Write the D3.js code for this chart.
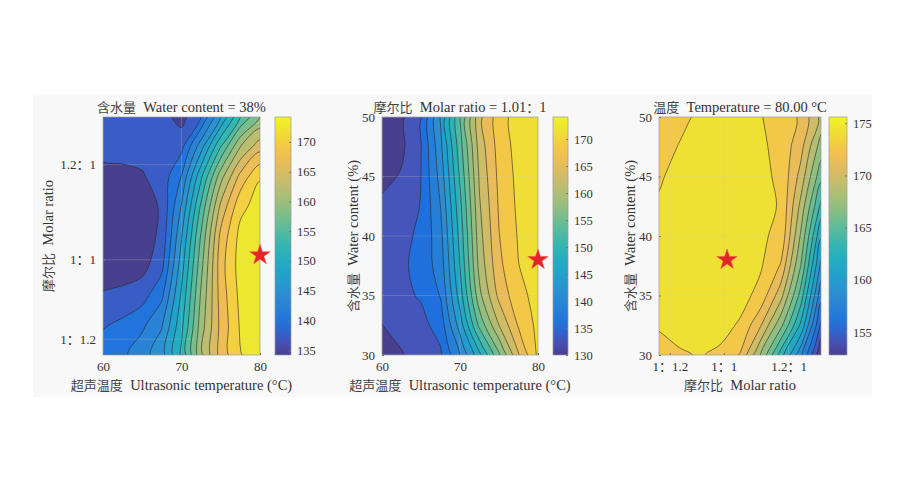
<!DOCTYPE html>
<html lang="en">
<head>
<meta charset="UTF-8">
<title>Contour panels</title>
<script src="https://d3js.org/d3.v7.min.js"></script>
<style>
    body { margin: 0; background: #fff; }
    text {
        font-family: "Liberation Serif", "Noto Sans CJK SC", serif;
        fill: #333;
        white-space: pre;
    }
</style>
</head>
<body>
<script>
    const width = 909;
    const height = 501;

    // grid axes (rows listed top to bottom)
    const tempCols = [60, 62.5, 65, 67.5, 70, 72.5, 75, 77.5, 80];
    const ratioCols = [0.8, 0.8625, 0.925, 0.9875, 1.05, 1.1125, 1.175, 1.2375, 1.3];
    const ratioRows = [1.3, 1.2375, 1.175, 1.1125, 1.05, 0.9875, 0.925, 0.8625, 0.8];
    const waterRows = [50, 47.5, 45, 42.5, 40, 37.5, 35, 32.5, 30];

    // panel 1: water content = 38%, temperature x molar ratio
    const yield1 = [
        [139.0, 139.0, 138.8, 138.4, 136.5, 140.0, 147.5, 155.0, 160.0],
        [138.2, 138.2, 138.3, 138.3, 139.3, 146.5, 155.0, 162.5, 166.5],
        [136.8, 137.0, 137.3, 138.5, 142.6, 152.0, 161.5, 168.3, 172.3],
        [135.5, 135.5, 136.0, 137.9, 145.2, 155.5, 165.6, 171.8, 173.6],
        [135.0, 135.0, 135.9, 138.2, 147.3, 157.8, 168.2, 173.3, 174.2],
        [135.8, 135.5, 136.6, 139.3, 148.9, 159.2, 169.0, 173.6, 174.2],
        [137.8, 138.5, 139.0, 142.0, 150.4, 160.4, 168.6, 173.2, 174.0],
        [139.8, 140.5, 142.0, 144.8, 151.8, 161.3, 168.2, 172.8, 173.8],
        [141.0, 142.0, 144.0, 146.5, 153.0, 162.0, 168.5, 172.4, 173.5]
    ];
    // panel 2: molar ratio = 1.01:1, temperature x water content
    const yield2 = [
        [131.0, 132.3, 135.2, 144.0, 154.8, 165.0, 170.0, 172.5, 174.0],
        [131.5, 132.2, 135.4, 143.0, 153.6, 164.2, 169.6, 172.3, 173.7],
        [132.0, 133.0, 135.5, 142.0, 152.4, 163.4, 169.2, 172.0, 173.4],
        [133.3, 134.3, 135.6, 141.0, 151.2, 162.7, 168.8, 171.8, 173.1],
        [133.8, 134.8, 136.0, 140.1, 150.2, 162.0, 168.4, 171.5, 172.8],
        [133.9, 134.9, 136.6, 139.4, 149.3, 161.2, 167.8, 171.2, 172.5],
        [133.5, 134.8, 135.8, 138.4, 147.8, 159.5, 166.5, 170.4, 172.2],
        [132.7, 133.8, 134.6, 136.7, 145.0, 155.5, 163.0, 168.8, 172.0],
        [130.5, 132.5, 134.0, 135.0, 141.0, 148.5, 157.0, 165.5, 171.8]
    ];
    // panel 3: temperature = 80 C, molar ratio x water content
    const yield3 = [
        [172.8, 173.6, 174.6, 174.8, 174.7, 174.3, 173.5, 172.5, 169.5],
        [173.3, 174.3, 175.1, 175.2, 175.0, 174.5, 173.7, 171.8, 167.8],
        [173.9, 175.0, 175.4, 175.5, 175.2, 174.6, 173.9, 170.8, 166.0],
        [174.5, 175.3, 175.6, 175.6, 175.2, 174.6, 174.1, 169.5, 163.8],
        [174.7, 175.4, 175.6, 175.6, 175.1, 174.4, 173.9, 168.3, 161.5],
        [174.7, 175.4, 175.6, 175.5, 175.0, 174.4, 172.6, 167.0, 159.5],
        [174.5, 175.2, 175.4, 175.2, 174.8, 173.7, 170.5, 165.0, 157.5],
        [174.3, 174.8, 175.0, 174.8, 174.0, 171.5, 167.5, 162.5, 155.3],
        [173.8, 174.0, 174.3, 173.9, 172.6, 168.5, 163.5, 158.8, 152.8]
    ];

    const levels1 = [137.5, 140, 142.5, 145, 147.5, 150, 152.5, 155, 157.5, 160, 162.5, 165, 167.5, 170, 172.5];
    const levels2 = [132.75, 135.5, 138.25, 141, 143.75, 146.5, 149.25, 152, 154.75, 157.5, 160.25, 163, 165.75, 168.5, 171.25];
    const levels3 = [154.2, 155.6, 157.0, 158.5, 159.9, 161.3, 162.8, 164.2, 165.6, 167.0, 168.5, 169.9, 171.3, 172.7, 174.2];

    const range1 = [134.2, 174.2];
    const range2 = [130, 174.1];
    const range3 = [152.8, 175.6];

    const cbTicks1 = [135, 140, 145, 150, 155, 160, 165, 170];
    const cbTicks2 = [130, 135, 140, 145, 150, 155, 160, 165, 170];
    const cbTicks3 = [155, 160, 165, 170, 175];

    const tempTicks = [60, 70, 80];
    const waterTicks = [30, 35, 40, 45, 50];
    const ratioTicks = [1 / 1.2, 1, 1.2];
    const ratioTickLabels = ["1：1.2", "1：1", "1.2：1"];

    const titles = ["含水量  Water content = 38%", "摩尔比  Molar ratio = 1.01：1", "温度  Temperature = 80.00 °C"];
    const xLabels = ["超声温度  Ultrasonic temperature (°C)", "超声温度  Ultrasonic temperature (°C)", "摩尔比  Molar ratio"];
    const yLabels = ["摩尔比  Molar ratio", "含水量  Water content (%)", "含水量  Water content (%)"];

    // optimum point in each panel
    const optimum = [[80, 1.01], [80, 38], [1.01, 38]];

    // parula colour map stops
    const parulaRows = [0, 4, 8, 12, 16, 20, 24, 28, 32, 36, 40, 44, 48, 52, 56, 60, 63];
    const parulaRgb = [
        [0.2081, 0.1663, 0.5292], [0.1959, 0.2645, 0.7279], [0.0117, 0.3875, 0.8820],
        [0.0498, 0.4586, 0.8641], [0.0793, 0.5200, 0.8312], [0.0343, 0.5966, 0.8199],
        [0.0228, 0.6535, 0.7768], [0.0843, 0.6928, 0.7062], [0.2178, 0.7250, 0.6193],
        [0.3953, 0.7459, 0.5244], [0.5709, 0.7485, 0.4494], [0.7184, 0.7411, 0.3905],
        [0.8507, 0.7299, 0.3360], [0.9739, 0.7314, 0.2666], [0.9880, 0.8066, 0.1794],
        [0.9598, 0.9218, 0.0948], [0.9763, 0.9831, 0.0538]
    ];
    const parulaBase = d3.scaleLinear()
            .domain(parulaRows.map(r => r / 63))
            .range(parulaRgb.map(c => d3.rgb(c[0] * 255, c[1] * 255, c[2] * 255).toString()))
            .interpolate(d3.interpolateRgb)
            .clamp(true);
    const parula = t => d3.interpolateRgb(parulaBase(t), "#c0c0c0")(0.14);

    const panels = [
        {grid: yield1, xs: tempCols, ys: ratioRows, levels: levels1, range: range1, cbTicks: cbTicks1,
            box: [103, 260, 117, 355], cb: [275, 291], xDomain: [60, 80], yDomain: [0.8, 1.3],
            xTicks: tempTicks, xTickLabels: tempTicks.map(String),
            yTicks: ratioTicks, yTickLabels: ratioTickLabels, yLabelX: 53},
        {grid: yield2, xs: tempCols, ys: waterRows, levels: levels2, range: range2, cbTicks: cbTicks2,
            box: [382, 538, 117, 355], cb: [553, 568], xDomain: [60, 80], yDomain: [30, 50],
            xTicks: tempTicks, xTickLabels: tempTicks.map(String),
            yTicks: waterTicks, yTickLabels: waterTicks.map(String), yLabelX: 358},
        {grid: yield3, xs: ratioCols, ys: waterRows, levels: levels3, range: range3, cbTicks: cbTicks3,
            box: [659, 821, 117, 355], cb: [829, 847], xDomain: [0.8, 1.3], yDomain: [30, 50],
            xTicks: ratioTicks, xTickLabels: ratioTickLabels,
            yTicks: waterTicks, yTickLabels: waterTicks.map(String), yLabelX: 635}
    ];

    const svg = d3.select("body").append("svg")
            .attr("width", width).attr("height", height);

    svg.append("rect")
            .attr("x", 33).attr("y", 95)
            .attr("width", 839).attr("height", 302)
            .attr("fill", "#f8f8f8");

    const defs = svg.append("defs");

    panels.forEach((p, pi) => drawPanel(p, pi));

    // split a label into CJK and Latin runs so each gets its own font
    function mixedText(sel, str, latinSize, cjkSize) {
        const runs = str.match(/[\u3000-\u9fff\uff00-\uffef]+|[^\u3000-\u9fff\uff00-\uffef]+/g);
        runs.forEach(r => {
            const cjk = /[\u3000-\u9fff\uff00-\uffef]/.test(r);
            sel.append("tspan")
                    .style("font-family", cjk ? '"Noto Sans CJK SC", sans-serif' : '"Liberation Serif", serif')
                    .attr("font-size", cjk ? cjkSize : latinSize)
                    .attr("fill", cjk ? "#444" : "#333")
                    .text(r);
        });
    }

    function drawPanel(p, pi) {
        const [x0, x1, y0, y1] = p.box;
        const x = d3.scaleLinear().domain(p.xDomain).range([x0, x1]);
        const y = d3.scaleLinear().domain(p.yDomain).range([y1, y0]);
        const n = p.xs.length, m = p.ys.length;

        // grid coordinates from d3.contours put sample i at i + 0.5
        const gx = d3.scaleLinear().domain([0.5, n - 0.5]).range([x(p.xs[0]), x(p.xs[n - 1])]);
        const gy = d3.scaleLinear().domain([0.5, m - 0.5]).range([y(p.ys[0]), y(p.ys[m - 1])]);

        const thresholds = [p.range[0] - 1].concat(p.levels);
        const bandLow = [p.range[0]].concat(p.levels);
        const color = v => parula((v - p.range[0]) / (p.range[1] - p.range[0]));

        const contours = d3.contours()
                .size([n, m])
                .thresholds(thresholds)(p.grid.flat());

        const ring = d3.line().curve(d3.curveCatmullRomClosed.alpha(0.5));
        const pathOf = c => c.coordinates.map(poly => poly.map(r =>
                ring(r.slice(0, -1).map(pt => [gx(pt[0]), gy(pt[1])]))).join("")).join("");

        defs.append("clipPath").attr("id", "clip" + pi)
                .append("rect")
                .attr("x", x0).attr("y", y0)
                .attr("width", x1 - x0).attr("height", y1 - y0);

        const g = svg.append("g").attr("clip-path", `url(#clip${pi})`);

        g.selectAll("path.band")
                .data(contours)
                .enter()
                .append("path")
                .attr("class", "band")
                .attr("d", pathOf)
                .attr("fill", (d, i) => color(bandLow[i]))
                .attr("fill-rule", "evenodd")
                .attr("stroke", "none");

        // grid lines
        g.selectAll("line.gx")
                .data(p.xTicks)
                .enter()
                .append("line")
                .attr("x1", d => x(d)).attr("x2", d => x(d))
                .attr("y1", y0).attr("y2", y1)
                .attr("stroke", "#c8c8c8").attr("stroke-opacity", 0.35).attr("stroke-width", 0.7);
        g.selectAll("line.gy")
                .data(p.yTicks)
                .enter()
                .append("line")
                .attr("y1", d => y(d)).attr("y2", d => y(d))
                .attr("x1", x0).attr("x2", x1)
                .attr("stroke", "#c8c8c8").attr("stroke-opacity", 0.35).attr("stroke-width", 0.7);

        g.selectAll("path.iso")
                .data(contours.slice(1))
                .enter()
                .append("path")
                .attr("class", "iso")
                .attr("d", pathOf)
                .attr("fill", "none")
                .attr("stroke", "#262626")
                .attr("stroke-opacity", 0.85)
                .attr("stroke-width", 0.7);

        // frame and ticks
        svg.append("rect")
                .attr("x", x0).attr("y", y0)
                .attr("width", x1 - x0).attr("height", y1 - y0)
                .attr("fill", "none").attr("stroke", "#9a9a9a").attr("stroke-width", 0.7);

        const xAxis = svg.append("g").attr("transform", `translate(0,${y1})`)
                .call(d3.axisBottom(x).tickValues(p.xTicks)
                        .tickFormat((d, i) => p.xTickLabels[i]).tickSize(-2).tickPadding(7));
        const yAxis = svg.append("g").attr("transform", `translate(${x0},0)`)
                .call(d3.axisLeft(y).tickValues(p.yTicks)
                        .tickFormat((d, i) => p.yTickLabels[i]).tickSize(-2).tickPadding(7));
        [xAxis, yAxis].forEach(a => {
            a.select(".domain").remove();
            a.selectAll(".tick line").attr("stroke", "#777");
            a.selectAll(".tick text").attr("font-size", 13).attr("fill", "#333")
                    .style("font-family", '"Liberation Serif", "Noto Sans CJK SC", serif');
        });

        // labels
        svg.append("text")
                .attr("x", (x0 + x1) / 2).attr("y", 112)
                .attr("text-anchor", "middle")
                .call(mixedText, titles[pi], 14.5, 13);
        svg.append("text")
                .attr("x", (x0 + x1) / 2).attr("y", 390)
                .attr("text-anchor", "middle")
                .call(mixedText, xLabels[pi], 14.5, 13);
        svg.append("text")
                .attr("transform", `translate(${p.yLabelX},${(y0 + y1) / 2}) rotate(-90)`)
                .attr("text-anchor", "middle")
                .call(mixedText, yLabels[pi], 14.5, 13);

        // optimum star
        svg.append("path")
                .attr("d", d3.symbol(d3.symbolStar, 130)())
                .attr("transform", `translate(${x(optimum[pi][0])},${y(optimum[pi][1])})`)
                .attr("fill", "#e3242b")
                .attr("stroke", "#f05050").attr("stroke-width", 0.5);

        // colour bar
        const [c0, c1] = p.cb;
        const cy = d3.scaleLinear().domain(p.range).range([y1, y0]);
        const grad = defs.append("linearGradient").attr("id", "cbar" + pi)
                .attr("x1", 0).attr("x2", 0).attr("y1", 1).attr("y2", 0);
        d3.range(0, 1.0001, 0.05).forEach(t => {
            grad.append("stop").attr("offset", t).attr("stop-color", parula(t));
        });
        svg.append("rect")
                .attr("x", c0).attr("y", y0)
                .attr("width", c1 - c0).attr("height", y1 - y0)
                .attr("fill", `url(#cbar${pi})`)
                .attr("stroke", "#9a9a9a").attr("stroke-width", 0.7);
        const cAxis = svg.append("g").attr("transform", `translate(${c1},0)`)
                .call(d3.axisRight(cy).tickValues(p.cbTicks).tickSize(-2).tickPadding(6));
        cAxis.select(".domain").remove();
        cAxis.selectAll(".tick line").attr("stroke", "#777");
        cAxis.selectAll(".tick text").attr("font-size", 12.5).attr("fill", "#333")
                .style("font-family", '"Liberation Serif", serif');
    }
</script>
</body>
</html>
